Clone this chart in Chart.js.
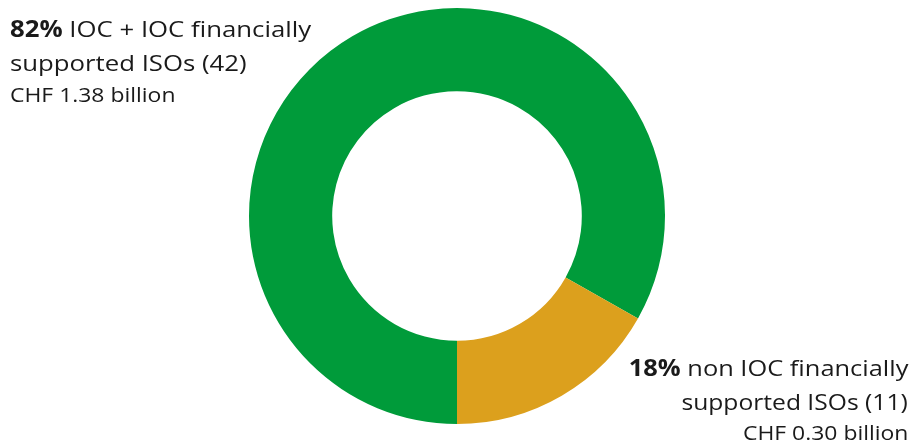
<!DOCTYPE html>
<html>
<head>
<meta charset="utf-8">
<script src="https://cdn.jsdelivr.net/npm/chart.js@4"></script>
<style>
  html, body { margin: 0; padding: 0; background: #fff; }
  #wrap { position: relative; width: 914px; height: 445px; overflow: hidden; }
  canvas { position: absolute; left: 0; top: 0; }
  .ln { position: absolute; font-family: "Open Sans", sans-serif; color: #1a1a1a; font-size: 22.4px; line-height: 1; white-space: nowrap; transform: scaleX(1.15); }
  .ln b { font-weight: 700; }
  .ln.sub { font-size: 19.6px; transform: scaleX(1.17); }
  .L { left: 10px; transform-origin: left center; }
  .R { right: 6px; text-align: right; transform-origin: right center; }
  #b1 { transform: scaleX(1.135); }
  #b2 { transform: scaleX(1.10); }
</style>
</head>
<body>
<div id="wrap">
  <canvas id="c" width="914" height="445"></canvas>
  <div class="ln L" style="top:17.8px" id="a1"></div>
  <div class="ln L" style="top:51.8px" id="a2"></div>
  <div class="ln L sub" style="top:84.9px" id="a3"></div>
  <div class="ln R" style="top:356.8px" id="b1"></div>
  <div class="ln R" style="top:390.6px" id="b2"></div>
  <div class="ln R sub" style="top:423.3px" id="b3"></div>
</div>
<script>
// Label texts (as printed on the chart)
const labelShares = [82, 18];
const labelLine1 = ["IOC + IOC financially", "non IOC financially"];
const labelLine2 = ["supported ISOs (42)", "supported ISOs (11)"];
const amounts = ["CHF 1.38 billion", "CHF 0.30 billion"];
// Slice sizes as read from the drawn ring
const categories = ["IOC + IOC financially supported ISOs (42)", "non IOC financially supported ISOs (11)"];
const sliceValues = [83.2, 16.8];
const colors = ["#009B3A", "#DCA01D"];

['a','b'].forEach((p, i) => {
  document.getElementById(p + '1').innerHTML = '<b>' + labelShares[i] + '%</b> ' + labelLine1[i];
  document.getElementById(p + '2').textContent = labelLine2[i];
  document.getElementById(p + '3').textContent = amounts[i];
});

new Chart(document.getElementById('c'), {
  type: 'doughnut',
  data: {
    labels: categories,
    datasets: [{
      data: sliceValues,
      backgroundColor: colors,
      borderWidth: 0,
      hoverOffset: 0
    }]
  },
  options: {
    responsive: false,
    animation: false,
    rotation: 180,
    cutout: '60%',
    layout: { padding: { top: 8, bottom: 21, left: 0, right: 0 } },
    plugins: { legend: { display: false }, tooltip: { enabled: false } }
  }
});
</script>
</body>
</html>
